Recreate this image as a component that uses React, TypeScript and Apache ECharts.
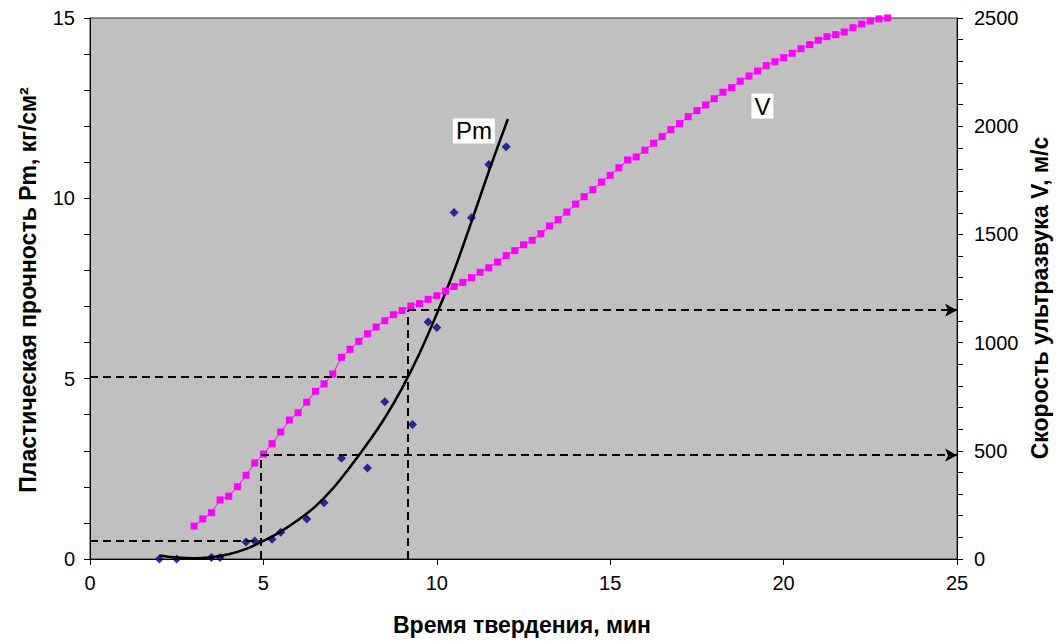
import React, { useEffect, useRef } from "react";
import * as echarts from "echarts";

// Plastic strength Pm measurements (time, Pm)
const pmTimes = [2, 2.5, 3.5, 3.75, 4.5, 4.75, 5.25, 5.5, 6.25, 6.75, 7.25, 8, 8.5, 9.3, 9.75, 10, 10.5, 11, 11.5, 12];
const pmValues = [0, 0, 0.04, 0.04, 0.47, 0.5, 0.55, 0.74, 1.11, 1.56, 2.79, 2.52, 4.36, 3.73, 6.57, 6.42, 9.61, 9.46, 10.94, 11.43];

// Trend line of Pm
const trendTimes = [2, 2.5, 3, 3.5, 4, 4.5, 5, 5.5, 6, 6.5, 7, 7.5, 8, 8.5, 9, 9.5, 10, 10.5, 11, 11.5, 12.05];
const trendValues = [0.1, 0.04, 0.02, 0.05, 0.13, 0.28, 0.5, 0.76, 1.08, 1.46, 1.95, 2.55, 3.2, 3.91, 4.74, 5.7, 6.8, 8.0, 9.35, 10.75, 12.2];

// Ultrasound velocity V (time, V)
const vTimes = [
  3, 3.25, 3.5, 3.75, 4, 4.25, 4.5, 4.75, 5, 5.25, 5.5, 5.75, 6, 6.25, 6.5, 6.75,
  7, 7.25, 7.5, 7.75, 8, 8.25, 8.5, 8.75, 9, 9.25, 9.5, 9.75, 10, 10.25, 10.5, 10.75,
  11, 11.25, 11.5, 11.75, 12, 12.25, 12.5, 12.75, 13, 13.25, 13.5, 13.75, 14, 14.25, 14.5, 14.75,
  15, 15.25, 15.5, 15.75, 16, 16.25, 16.5, 16.75, 17, 17.25, 17.5, 17.75, 18, 18.25, 18.5, 18.75,
  19, 19.25, 19.5, 19.75, 20, 20.25, 20.5, 20.75, 21, 21.25, 21.5, 21.75, 22, 22.25, 22.5, 22.75, 23,
];
const vValues = [
  152, 185, 214, 273, 290, 334, 387, 444, 485, 533, 587, 642, 676, 725, 775, 809,
  855, 932, 969, 1006, 1041, 1072, 1101, 1129, 1148, 1169, 1180, 1200, 1217, 1238, 1259, 1278,
  1300, 1325, 1346, 1372, 1402, 1425, 1452, 1473, 1503, 1539, 1568, 1603, 1640, 1674, 1707, 1742,
  1773, 1808, 1844, 1858, 1889, 1921, 1952, 1984, 2012, 2044, 2072, 2098, 2127, 2157, 2178, 2208,
  2232, 2255, 2280, 2298, 2317, 2337, 2358, 2377, 2397, 2414, 2423, 2435, 2455, 2472, 2486, 2496, 2500,
];

// Guide lines: [time, Pm, V]
const guideTimes = [4.93, 9.17];
const guidePm = [0.5, 5.05];
const guideV = [480, 1150];

// Axis ticks
const xTicks = [0, 5, 10, 15, 20, 25];
const pmTicks = [0, 5, 10, 15];
const vTicks = [0, 500, 1000, 1500, 2000, 2500];

// Curve labels [time, value]
const pmLabelPos = [11.07, 11.87];
const vLabelPos = [19.39, 2093];

const FONT = "'Liberation Sans', Arial, sans-serif";

export default function App() {
  const ref = useRef<HTMLDivElement>(null);
  useEffect(() => {
    if (!ref.current) return;
    const chart = echarts.init(ref.current, undefined, { renderer: "svg" });
    const dash = { color: "#000", width: 2, type: [8, 5] as any };
    const pmGuides: any[] = [];
    const vGuides: any[] = [];
    guideTimes.forEach((t, i) => {
      pmGuides.push([{ coord: [xTicks[0], guidePm[i]] }, { coord: [t, guidePm[i]] }]);
      vGuides.push([{ coord: [t, vTicks[0]], symbol: "none" }, { coord: [t, guideV[i]], symbol: "none" }]);
      vGuides.push([{ coord: [t, guideV[i]], symbol: "none" }, { coord: [xTicks[xTicks.length - 1], guideV[i]], symbol: "arrow" }]);
    });
    const tickLabel = { fontSize: 20, color: "#000", fontFamily: FONT, formatter: (v: number) => String(v) };
    const option: any = {
      animation: false,
      textStyle: { fontFamily: FONT },
      grid: {
        left: 90,
        right: 101,
        top: 18,
        bottom: 82,
        show: true,
        backgroundColor: "#C0C0C0",
        borderColor: "#333",
        borderWidth: 1,
      },
      xAxis: {
        type: "value",
        min: xTicks[0],
        max: xTicks[xTicks.length - 1],
        interval: 5,
        axisLine: { show: true, onZero: false, lineStyle: { color: "#000", width: 1 } },
        axisTick: { show: true, length: 6, inside: false, lineStyle: { color: "#000" } },
        splitLine: { show: false },
        axisLabel: { ...tickLabel, margin: 14 },
      },
      yAxis: [
        {
          type: "value",
          min: pmTicks[0],
          max: pmTicks[pmTicks.length - 1],
          interval: 5,
          position: "left",
          axisLine: { show: true, lineStyle: { color: "#000", width: 1 } },
          axisTick: { show: true, length: 6, lineStyle: { color: "#000" } },
          minorTick: { show: true, splitNumber: 5, length: 6, lineStyle: { color: "#000" } },
          splitLine: { show: false },
          axisLabel: { ...tickLabel, margin: 15 },
        },
        {
          type: "value",
          min: vTicks[0],
          max: vTicks[vTicks.length - 1],
          interval: 500,
          position: "right",
          axisLine: { show: true, lineStyle: { color: "#000", width: 1 } },
          axisTick: { show: true, length: 6, lineStyle: { color: "#000" } },
          minorTick: { show: true, splitNumber: 5, length: 6, lineStyle: { color: "#000" } },
          splitLine: { show: false },
          axisLabel: { ...tickLabel, margin: 17 },
        },
      ],
      series: [
        {
          type: "line",
          name: "guidesPm",
          yAxisIndex: 0,
          data: [],
          markLine: {
            silent: true,
            symbol: "none",
            label: { show: false },
            lineStyle: dash,
            data: pmGuides,
          },
        },
        {
          type: "line",
          name: "guidesV",
          yAxisIndex: 1,
          data: [],
          markLine: {
            silent: true,
            symbol: ["none", "arrow"],
            symbolSize: [10, 12],
            label: { show: false },
            lineStyle: dash,
            data: vGuides,
          },
        },
        {
          type: "line",
          name: "V",
          yAxisIndex: 1,
          data: vTimes.map((t, i) => [t, vValues[i]]),
          symbol: "rect",
          symbolSize: 7,
          showSymbol: true,
          lineStyle: { color: "#FF00FF", width: 1 },
          itemStyle: { color: "#FF00FF" },
          markPoint: {
            symbol: "rect",
            symbolSize: 0,
            data: [{ coord: vLabelPos }],
            label: {
              show: true,
              position: "inside",
              formatter: "V",
              color: "#000",
              fontSize: 24,
              fontFamily: FONT,
              backgroundColor: "#fff",
              padding: [1, 3, 0, 3],
            },
          },
        },
        {
          type: "line",
          name: "trend",
          yAxisIndex: 0,
          data: trendTimes.map((t, i) => [t, trendValues[i]]),
          smooth: 0.3,
          showSymbol: false,
          symbol: "none",
          lineStyle: { color: "#000", width: 2.5 },
          markPoint: {
            symbol: "rect",
            symbolSize: 0,
            data: [{ coord: pmLabelPos }],
            label: {
              show: true,
              position: "inside",
              formatter: "Pm",
              color: "#000",
              fontSize: 24,
              fontFamily: FONT,
              backgroundColor: "#fff",
              padding: [1, 3, 0, 3],
            },
          },
        },
        {
          type: "scatter",
          name: "Pm",
          yAxisIndex: 0,
          data: pmTimes.map((t, i) => [t, pmValues[i]]),
          symbol: "diamond",
          symbolSize: 9,
          itemStyle: { color: "#000080" },
        },
      ],
      graphic: [
        {
          type: "text",
          x: 522,
          y: 625,
          style: {
            text: "Время твердения, мин",
            font: `bold 23px ${FONT}`,
            fill: "#000",
            align: "center",
            verticalAlign: "middle",
          },
        },
        {
          type: "text",
          x: 28,
          y: 290,
          rotation: Math.PI / 2,
          style: {
            text: "Пластическая прочность Pm, кг/см²",
            font: `bold 23px ${FONT}`,
            fill: "#000",
            align: "center",
            verticalAlign: "middle",
          },
        },
        {
          type: "text",
          x: 1040,
          y: 298,
          rotation: Math.PI / 2,
          style: {
            text: "Скорость ультразвука V, м/с",
            font: `bold 23px ${FONT}`,
            fill: "#000",
            align: "center",
            verticalAlign: "middle",
          },
        },
      ],
    };
    chart.setOption(option);
    return () => chart.dispose();
  }, []);
  return (
    <div
      ref={ref}
      style={{ position: "fixed", left: 0, top: 0, width: 1058, height: 641, background: "#fff" }}
    />
  );
}
